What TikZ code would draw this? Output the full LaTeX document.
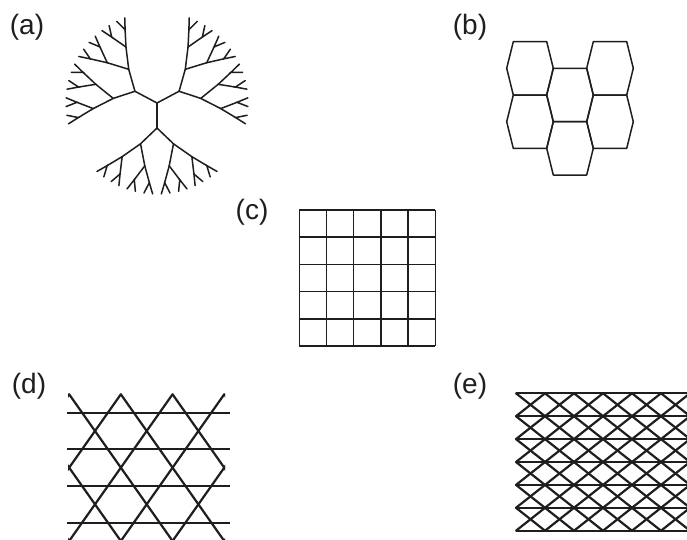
\documentclass[tikz,border=0pt]{standalone}
\usepackage{fontspec}
\setmainfont{Liberation Sans}
\usepackage{tikz}
\usetikzlibrary{calc}

\definecolor{ink}{RGB}{30,30,30}
\tikzset{
  lbl/.style={font=\fontsize{28}{30}\selectfont, inner sep=0pt, text=ink},
  bond/.style={draw=ink, line width=1.5pt, line cap=round},
  cell/.style={draw=ink, line width=1.5pt, line join=round},
  rod/.style={draw=ink, line width=2.2pt, line cap=round}
}

\begin{document}
\begin{tikzpicture}[x=1pt,y=-1pt]
  \useasboundingbox (0,0) rectangle (687,539);
  \fill[white] (0,0) rectangle (687,539);

  \node[lbl] (la) at (27,27) {(a)}; % Cayley tree
  \node[lbl] (lb) at (470,27) {(b)}; % honeycomb
  \node[lbl] (lc) at (252,212) {(c)}; % square
  \node[lbl] (ld) at (29,386) {(d)}; % kagome
  \node[lbl] (le) at (470,386) {(e)}; % triangular

  % (a) tree, three branches from the centre
  \begin{scope}[shift={(157,103)}]
    \foreach \a in {90,208,332} {
      \draw[bond] (0,0) -- (\a:25);
      \foreach \s in {-1,1} {
        \pgfmathsetmacro\bb{\a+22*\s}
        \draw[bond] (\a:25) -- (\bb:44);
        \foreach \t in {-1,1} {
          \pgfmathsetmacro\cc{\bb+11*\t}
          \draw[bond] (\bb:44) -- (\cc:64);
          \foreach \u in {-1,1} {
            \pgfmathsetmacro\dd{\cc+5.5*\u}
            \draw[bond] (\cc:64) -- (\dd:80);
            \draw[bond] ({\dd+2.75}:91) -- (\dd:80) -- ({\dd-2.75}:91); % end fork
          }
        }
      }
    }
  \end{scope}

  % (b) six hexagons
  \foreach \cx/\cy in {530/68.3, 530/121.7, 570/95, 570/148.3, 610/68.3, 610/121.7}
    \draw[cell] (\cx-16.7,\cy-26.7) -- ++(33.4,0) -- ++(6.6,26.7) -- ++(-6.6,26.7)
      -- ++(-33.4,0) -- ++(-6.6,-26.7) -- cycle;

  % (c) 5x5 squares
  \foreach \i in {0,...,5} {
    \draw[cell] (299.3+27.2*\i,210) -- (299.3+27.2*\i,346); % vertical
    \draw[cell] (299.3,210+27.2*\i) -- (435.3,210+27.2*\i); % horizontal
  }

  % (d) kagome: diagonals clipped to the box, then the rows
  \begin{scope}
    \clip (68.2,393.4) rectangle (225.2,545);
    \foreach \j in {-4,...,6} {
      \draw[rod] (69.15+51.7*\j,394.3) -- ++(129.25,183.35);
      \draw[rod] (69.15+51.7*\j,394.3) -- ++(-129.25,183.35);
    }
  \end{scope}
  \foreach \k in {0,...,3}
    \draw[rod, line cap=butt] (66.7,412.7+36.67*\k) -- (230,412.7+36.67*\k);

  % (e) triangular: crosses in each cell
  \foreach \r in {0,...,5}
    \foreach \k in {0,...,5} {
      \draw[rod] (516+29*\k,393.3+22.9*\r) -- ++(29,22.9);
      \draw[rod] (516+29*\k,416.2+22.9*\r) -- ++(29,-22.9);
    }
  \foreach \r in {0,...,6}
    \draw[rod, line cap=butt] (516,393.3+22.9*\r) -- (690,393.3+22.9*\r);
\end{tikzpicture}
\end{document}
